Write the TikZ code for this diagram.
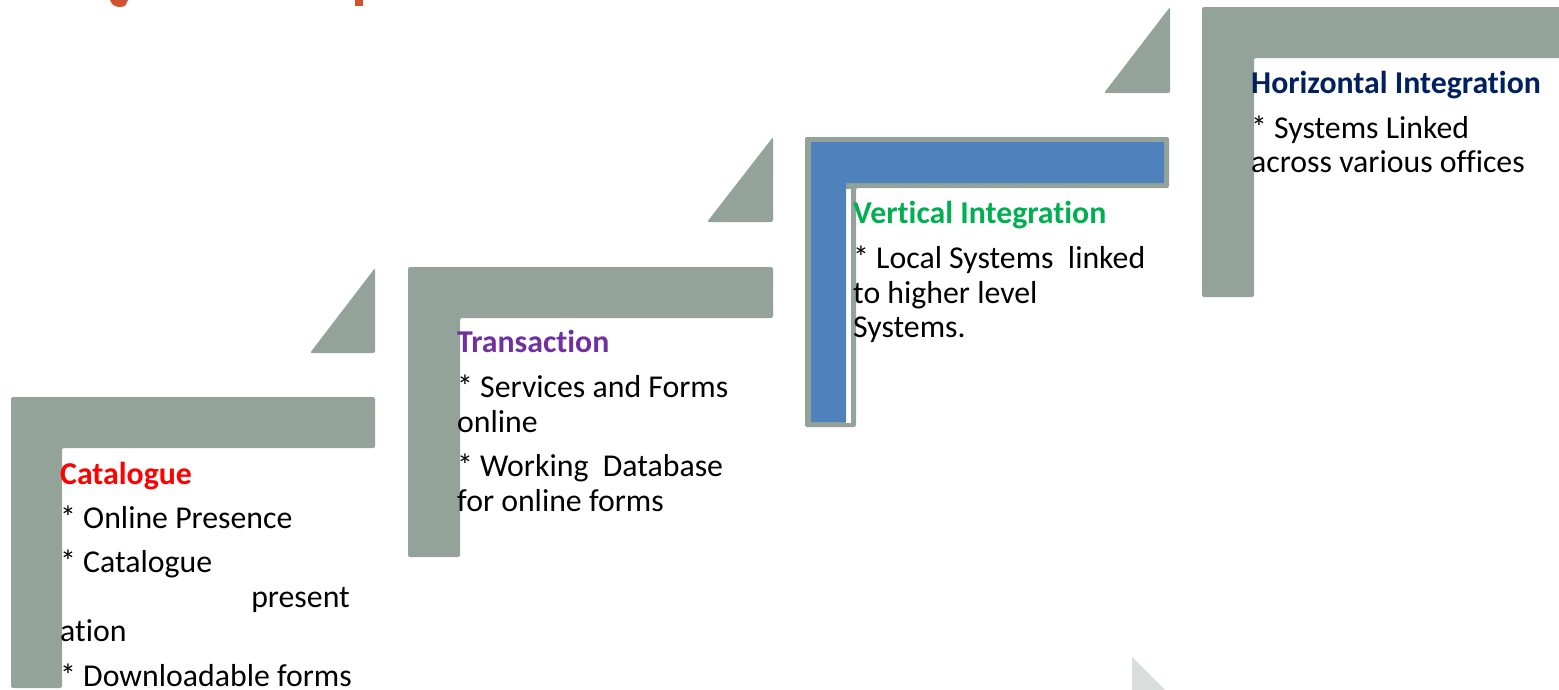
\documentclass[tikz,border=0pt]{standalone}
\usepackage{fontspec}
\setmainfont{Carlito}[Ligatures=NoCommon]
\definecolor{stepgrey}{HTML}{94A39A}
\definecolor{stepblue}{HTML}{4F81BD}
\definecolor{palegrey}{HTML}{D9DEDC}
\definecolor{titlered}{HTML}{D35232}
\definecolor{catred}{HTML}{FF0000}
\definecolor{transpurple}{HTML}{7030A0}
\definecolor{vertgreen}{HTML}{00B050}
\definecolor{horiznavy}{HTML}{002060}
\tikzset{
  stepshape/.style={fill=stepgrey, rounded corners=2pt},
  head/.style={anchor=base west, inner sep=0pt, font=\fontsize{31.8}{35}\selectfont\bfseries},
  body/.style={anchor=base west, inner sep=0pt, font=\fontsize{31.8}{35}\selectfont, text=black},
}
% L-shaped step: left, top, right end of bar, bar bottom, post right, post bottom
\newcommand{\lstep}[7][stepshape]{%
  \fill[#1] (#2,#3) -- (#4,#3) -- (#4,#5) -- (#6,#5) -- (#6,#7) -- (#2,#7) -- cycle;}
\begin{document}
\begin{tikzpicture}[x=1pt,y=-1pt]
\useasboundingbox (0,0) rectangle (1559,689);
\begin{scope}
\clip (0,0) rectangle (1559,689);

% fragments of the red heading above
\fill[titlered] (110,0) .. controls (112,5) and (115,7) .. (120,7) -- (125,6) -- (128,0) -- cycle;
\fill[titlered] (355,0) rectangle (363,6);

% step 1
\lstep{11}{397}{375}{448}{62}{688}
\fill[stepshape] (310,353) -- (375,353) -- (375,268) -- cycle;
% step 2
\lstep{408}{267}{773}{318}{460}{557}
\fill[stepshape] (707,222) -- (773,222) -- (773,137) -- cycle;
% step 3 (highlighted)
\lstep{805}{137}{1169}{188}{856}{427}
\fill[white] (846,189) rectangle (851,423);
\lstep[fill=stepblue]{811}{142}{1164}{183}{846}{422}
\fill[stepshape] (1104,93) -- (1170,93) -- (1170,7) -- cycle;
% step 4
\lstep{1202}{7}{1570}{58}{1254}{297}
% pale corner
\fill[palegrey] (1132,657) -- (1132,700) -- (1175,700) -- cycle;
\end{scope}

% texts of step 1
\node[head, text=catred] (cath) at (60,484) {Catalogue};
\node[body] (cat1) at (60,528) {* Online Presence};
\node[body] (cat2) at (60,572) {* Catalogue};
\node[body, anchor=base east] (cat3) at (350,607) {present};
\node[body] (cat4) at (60,641) {ation};
\node[body] (cat5) at (60,686) {* Downloadable forms};

% texts of step 2
\node[head, text=transpurple] (trh) at (457,352) {Transaction};
\node[body] (tr1) at (457,397) {* Services and Forms};
\node[body] (tr2) at (457,432) {online};
\node[body] (tr3) at (457,476) {* Working\ \ Database};
\node[body] (tr4) at (457,511) {for online forms};

% texts of step 3
\node[head, text=vertgreen] (veh) at (853,223) {Vertical Integration};
\node[body] (ve1) at (853,268) {* Local Systems\ \ linked};
\node[body] (ve2) at (853,303) {to higher level};
\node[body] (ve3) at (853,337) {Systems.};

% texts of step 4
\node[head, text=horiznavy] (hoh) at (1251,93) {Horizontal Integration};
\node[body] (ho1) at (1251,138) {* Systems Linked};
\node[body] (ho2) at (1251,172) {across various offices};
\end{tikzpicture}
\end{document}
